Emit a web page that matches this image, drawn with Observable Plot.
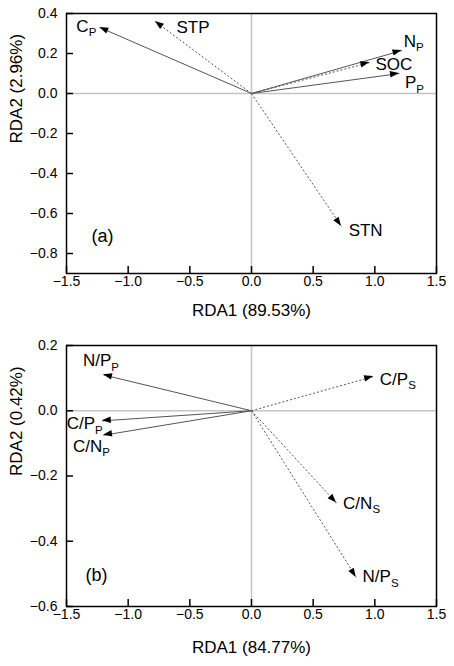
<!DOCTYPE html>
<html><head><meta charset="utf-8">
<script src="https://cdn.jsdelivr.net/npm/d3@7"></script>
<script src="https://cdn.jsdelivr.net/npm/@observablehq/plot@0.6"></script>
<style>body{margin:0;background:#fff} svg{display:block}</style>
</head><body><div id="chart"></div>
<script>
// ---------- Data: panel (a) ----------
const namesA = ["C", "STP", "N", "SOC", "P", "STN"];
const subsA  = ["P", "",    "P", "",    "P", ""];
const rda1A  = [-1.23, -0.78, 1.22, 0.96, 1.20, 0.73];
const rda2A  = [0.33, 0.36, 0.215, 0.155, 0.10, -0.665];
const soilA  = [false, true, false, true, false, true];
const yTicksA = [0.4, 0.2, 0.0, -0.2, -0.4, -0.6, -0.8];
const yDomainA = [-0.9, 0.4];
const xTitleA = "RDA1 (89.53%)";
const yTitleA = "RDA2 (2.96%)";

// ---------- Data: panel (b) ----------
const namesB = ["N/P", "C/P", "C/P", "C/N", "C/N", "N/P"];
const subsB  = ["P",   "S",   "P",   "P",   "S",   "S"];
const rda1B  = [-1.20, 0.99, -1.21, -1.20, 0.69, 0.85];
const rda2B  = [0.11, 0.105, -0.031, -0.075, -0.283, -0.511];
const soilB  = [false, true, false, false, true, true];
const yTicksB = [0.2, 0.0, -0.2, -0.4, -0.6];
const yDomainB = [-0.6, 0.2];
const xTitleB = "RDA1 (84.77%)";
const yTitleB = "RDA2 (0.42%)";

const xTicks = [-1.5, -1.0, -0.5, 0.0, 0.5, 1.0, 1.5];
const xDomain = [-1.5, 1.5];

// ---------- Layout (label nudges in pixels, not data) ----------
const nudgeA = [
  {dx: -3, dy: 4.7, anchor: "end"},
  {dx: 21.7, dy: 11.6, anchor: "start"},
  {dx: 2.3, dy: -3.3, anchor: "start"},
  {dx: 6, dy: 7.5, anchor: "start"},
  {dx: 6, dy: 15, anchor: "start"},
  {dx: 7.6, dy: 10, anchor: "start"}
];
const nudgeB = [
  {dx: 16, dy: -8.3, anchor: "end"},
  {dx: 6.7, dy: 8.6, anchor: "start"},
  {dx: 1, dy: 9, anchor: "end"},
  {dx: 7, dy: 17, anchor: "end"},
  {dx: 7, dy: 6.3, anchor: "start"},
  {dx: 6.7, dy: 5.3, anchor: "start"}
];

const FONT = "'Liberation Sans', Arial, Helvetica, sans-serif";

function headsAndLabels(vecs) {
  return (index, scales) => {
    const g = d3.create("svg:g");
    const x0 = scales.x(0), y0 = scales.y(0);
    for (const d of vecs) {
      const x1 = scales.x(d.x), y1 = scales.y(d.y);
      const a = Math.atan2(y1 - y0, x1 - x0) * 180 / Math.PI;
      g.append("path")
        .attr("d", "M0,0L-9,-3.2L-9,3.2Z")
        .attr("transform", `translate(${x1},${y1}) rotate(${a})`)
        .attr("fill", "black");
      const t = g.append("text")
        .attr("x", x1 + d.nudge.dx)
        .attr("y", y1 + d.nudge.dy)
        .attr("text-anchor", d.nudge.anchor)
        .attr("font-size", 17)
        .attr("fill", "black");
      t.append("tspan").text(d.name);
      if (d.sub) t.append("tspan").attr("font-size", 11.5).attr("dy", 4.5).text(d.sub);
    }
    return g.node();
  };
}

function panel(names, subs, rda1, rda2, soil, nudge, yTicks, yDomain, xTitle, yTitle, tag, marginTop, tagDx, tagDy, xTitleDy) {
  const vecs = names.map((n, i) => ({name: n, sub: subs[i], x: rda1[i], y: rda2[i], soil: soil[i], nudge: nudge[i]}));
  const H = 333, mb = 60;
  const frameH = H - marginTop - mb;
  const frameW = 454 - 66 - 18;
  return Plot.plot({
    width: 454, height: H,
    marginLeft: 66, marginRight: 18, marginTop, marginBottom: mb,
    style: {fontFamily: FONT, fontSize: "14px", background: "white", color: "black"},
    x: {domain: xDomain, ticks: xTicks, tickFormat: d3.format(".1f"), tickSize: 0, tickPadding: 3, label: null},
    y: {domain: yDomain, ticks: yTicks, tickFormat: d3.format(".1f"), tickSize: 0, tickPadding: 9, label: null},
    marks: [
      Plot.ruleX([0], {stroke: "#c4c4c4", strokeWidth: 1.5}),
      Plot.ruleY([0], {stroke: "#c4c4c4", strokeWidth: 1.5}),
      Plot.tickX(xTicks, {x: d => d, insetTop: frameH - 7, stroke: "black", strokeWidth: 1.5}),
      Plot.tickY(yTicks, {y: d => d, insetRight: frameW - 7, stroke: "black", strokeWidth: 1.5}),
      Plot.link(vecs.filter(d => !d.soil), {x1: () => 0, y1: () => 0, x2: "x", y2: "y", stroke: "#555", strokeWidth: 1}),
      Plot.link(vecs.filter(d => d.soil), {x1: () => 0, y1: () => 0, x2: "x", y2: "y", stroke: "#555", strokeWidth: 1, strokeDasharray: "2,2"}),
      headsAndLabels(vecs),
      Plot.text([tag], {text: d => d, frameAnchor: "bottom-left", dx: tagDx, dy: tagDy, textAnchor: "start", fontSize: 18}),
      Plot.text([xTitle], {text: d => d, frameAnchor: "bottom", dy: xTitleDy, fontSize: 17}),
      Plot.text([yTitle], {text: d => d, frameAnchor: "left", dx: -50, rotate: -90, fontSize: 17}),
      Plot.frame({stroke: "black", strokeWidth: 1.5})
    ]
  });
}

const root = document.getElementById("chart");
root.append(panel(namesA, subsA, rda1A, rda2A, soilA, nudgeA, yTicksA, yDomainA, xTitleA, yTitleA, "(a)", 13, 25, -32, 42));
root.append(panel(namesB, subsB, rda1B, rda2B, soilB, nudgeB, yTicksB, yDomainB, xTitleB, yTitleB, "(b)", 12, 19, -26, 46));
</script>
</body></html>
